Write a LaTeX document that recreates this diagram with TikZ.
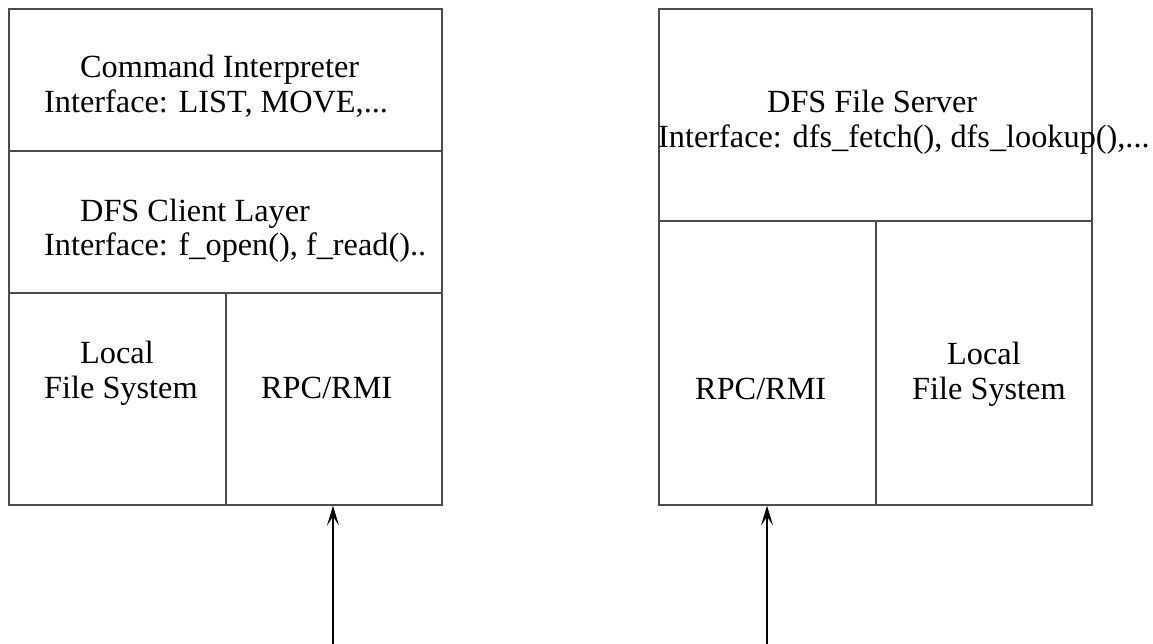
\documentclass[tikz,border=0pt]{standalone}
\usepackage{fontspec}
\setmainfont{Liberation Serif}
\usetikzlibrary{arrows.meta}
\tikzset{
  cell/.style={draw=black!70, line width=1.6pt, rectangle, inner sep=0pt, anchor=north west},
  txt/.style={anchor=base west, inner sep=0pt, align=left, font=\fontsize{32.3}{35}\selectfont},
  flow/.style={draw=black, line width=1.5pt, -{Stealth[length=20pt,width=12pt,inset=9pt]}}
}
\begin{document}
\begin{tikzpicture}[x=1pt,y=-1pt]
  \useasboundingbox (0,0) rectangle (1153,644);

  % client stack
  \node[cell, minimum width=433pt, minimum height=142pt] (cmd) at (8,8) {};
  \node[cell, minimum width=433pt, minimum height=142pt] (client) at (8,150) {};
  \node[cell, minimum width=217pt, minimum height=212pt] (lfsA) at (8,292) {};
  \node[cell, minimum width=216pt, minimum height=212pt] (rpcA) at (225,292) {};

  % server stack
  \node[cell, minimum width=433pt, minimum height=212pt] (server) at (658,8) {};
  \node[cell, minimum width=217pt, minimum height=284pt] (rpcB) at (658,220) {};
  \node[cell, minimum width=216pt, minimum height=284pt] (lfsB) at (875,220) {};

  % labels (base anchor sits on the last line)
  \node[txt] (tcmd) at (44,113) {\hspace*{36pt}Command Interpreter\\Interface: LIST, MOVE,...};
  \node[txt] (tclient) at (44,256) {\hspace*{36pt}DFS Client Layer\\Interface: f\_open(), f\_read()..};
  \node[txt] (tlfsA) at (44,398) {\hspace*{36pt}Local\\File System};
  \node[txt] (trpcA) at (261,398) {RPC/RMI};
  \node[txt] (tserver) at (658,148) {\hspace*{109pt}DFS File Server\\Interface: dfs\_fetch(), dfs\_lookup(),...};
  \node[txt] (trpcB) at (695,399) {RPC/RMI};
  \node[txt] (tlfsB) at (912,399) {\hspace*{35pt}Local\\File System};

  % incoming calls
  \coordinate (inA) at (333,644);
  \coordinate (inB) at (767,644);
  \draw[flow] (inA) -- (inA |- rpcA.south);
  \draw[flow] (inB) -- (inB |- rpcB.south);
\end{tikzpicture}
\end{document}
